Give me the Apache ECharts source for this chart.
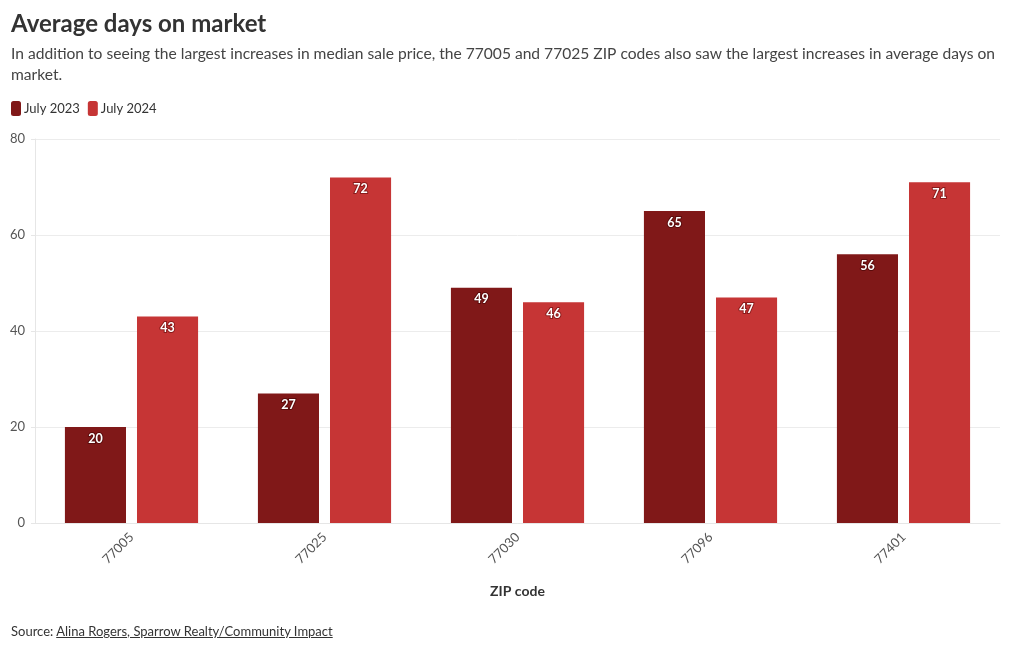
<!DOCTYPE html>
<html><head><meta charset="utf-8">
<script src="https://cdn.jsdelivr.net/npm/echarts@6/dist/echarts.min.js"></script>
<style>
html,body{margin:0;padding:0;background:#fff;}
#c{width:1020px;height:650px;position:relative;}
#src{position:absolute;left:11px;top:623px;font-family:Lato,'Noto Sans',sans-serif;font-size:13px;color:#333;}
#src a{color:#333;text-decoration:underline;}
</style></head>
<body>
<div id="c"></div>
<div id="src">Source: <a>Alina Rogers, Sparrow Realty/Community Impact</a></div>
<script>
const categories = ['77005','77025','77030','77096','77401'];
const july2023 = [20, 27, 49, 65, 56];
const july2024 = [43, 72, 46, 47, 71];
const yTicks = [0, 20, 40, 60, 80];

const font = 'Lato, "Noto Sans", sans-serif';
const chart = echarts.init(document.getElementById('c'));
const labelCfg = (border) => ({
  show: true, position: 'insideTop', distance: 5,
  color: '#fff', fontWeight: 'bold', fontSize: 12.5, fontFamily: font,
  textBorderColor: border, textBorderWidth: 2
});
chart.setOption({
  animation: false,
  title: {
    text: 'Average days on market',
    subtext: 'In addition to seeing the largest increases in median sale price, the 77005 and 77025 ZIP codes also saw the largest increases in average days on market.',
    left: 11, top: 12, itemGap: 7, padding: 0,
    textStyle: {fontFamily: font, fontSize: 24, fontWeight: 'bold', color: '#333'},
    subtextStyle: {fontFamily: font, fontSize: 15.6, color: '#444', width: 1000, overflow: 'break', lineHeight: 21}
  },
  legend: {
    left: 11, top: 101, padding: 0, itemWidth: 10, itemHeight: 15, itemGap: 8,
    icon: 'roundRect',
    textStyle: {fontFamily: font, fontSize: 13, color: '#333', padding: [0,0,0,-2]},
    data: ['July 2023', 'July 2024']
  },
  grid: {left: 35, right: 20, top: 139, bottom: 127, containLabel: false},
  xAxis: {
    type: 'category', data: categories,
    name: 'ZIP code', nameLocation: 'middle', nameGap: 61,
    nameTextStyle: {fontFamily: font, fontSize: 14, fontWeight: 'bold', color: '#333'},
    axisLine: {lineStyle: {color: '#e6e6e6'}},
    axisTick: {alignWithLabel: true, length: 5, lineStyle: {color: '#e6e6e6'}},
    axisLabel: {rotate: 45, fontFamily: font, fontSize: 13, color: '#555', margin: 12}
  },
  yAxis: {
    type: 'value', min: yTicks[0], max: yTicks[yTicks.length-1], interval: 20,
    axisLine: {show: true, lineStyle: {color: '#e6e6e6'}},
    axisTick: {show: true, length: 4, lineStyle: {color: '#e6e6e6'}},
    splitLine: {lineStyle: {color: '#ececec'}},
    axisLabel: {fontFamily: font, fontSize: 13, color: '#555', margin: 10}
  },
  series: [
    {name: 'July 2023', type: 'bar', data: july2023, barGap: '18%', barCategoryGap: '31%',
     itemStyle: {color: '#801818'}, label: labelCfg('#5a0c0c')},
    {name: 'July 2024', type: 'bar', data: july2024,
     itemStyle: {color: '#c63535'}, label: labelCfg('#8a1a1a')}
  ]
});
</script>
</body></html>
